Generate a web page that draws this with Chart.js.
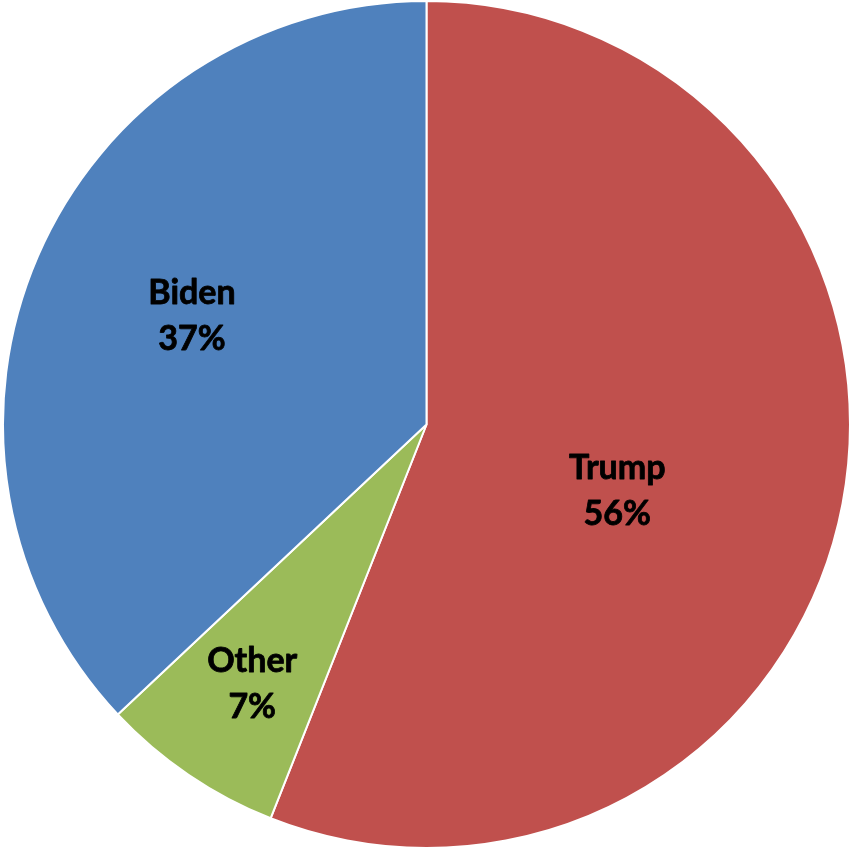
<!DOCTYPE html>
<html>
<head>
<meta charset="utf-8">
<title>Trump / Biden / Other</title>
<script src="https://cdn.jsdelivr.net/npm/chart.js@4/dist/chart.umd.min.js"></script>
<style>
  html, body { margin: 0; padding: 0; background: #ffffff; }
  #wrap { width: 853px; height: 849px; }
</style>
</head>
<body>
<div id="wrap"><canvas id="voteChart" width="853" height="849"></canvas></div>
<script>
// share of respondents per candidate
const candidates = ['Trump', 'Other', 'Biden'];
const shares = [56, 7, 37];
const sliceColors = ['#C0504D', '#9BBB59', '#4F81BD'];

// where each in-slice label sits: fraction of radius, and a small turn (deg) off the slice middle
const labelRadius = [0.477, 0.738, 0.61];
const labelTurn = [8.4, -0.3, 1.4];

const sliceLabels = {
  id: 'sliceLabels',
  afterDatasetsDraw(chart) {
    const ctx = chart.ctx;
    const meta = chart.getDatasetMeta(0);
    ctx.save();
    ctx.fillStyle = '#000000';
    ctx.strokeStyle = '#000000';
    ctx.lineWidth = 0.8;
    ctx.lineJoin = 'round';
    ctx.font = 'bold 34px Lato, "Open Sans", sans-serif';
    ctx.textAlign = 'center';
    ctx.textBaseline = 'middle';
    meta.data.forEach((arc, i) => {
      const mid = (arc.startAngle + arc.endAngle) / 2 + labelTurn[i] * Math.PI / 180;
      const r = arc.outerRadius * labelRadius[i];
      const x = arc.x + Math.cos(mid) * r;
      const y = arc.y + Math.sin(mid) * r;
      const lines = [candidates[i], shares[i] + '%'];
      lines.forEach((txt, j) => {
        const ly = y + (j === 0 ? -23 : 23);
        ctx.fillText(txt, x, ly);
        ctx.strokeText(txt, x, ly);
      });
    });
    ctx.restore();
  }
};

new Chart(document.getElementById('voteChart'), {
  type: 'pie',
  data: {
    labels: candidates,
    datasets: [{
      data: shares,
      backgroundColor: sliceColors,
      borderColor: '#ffffff',
      borderWidth: 2
    }]
  },
  options: {
    responsive: false,
    animation: false,
    layout: { padding: 0 },
    plugins: {
      legend: { display: false },
      tooltip: { enabled: false }
    }
  },
  plugins: [sliceLabels]
});
</script>
</body>
</html>
